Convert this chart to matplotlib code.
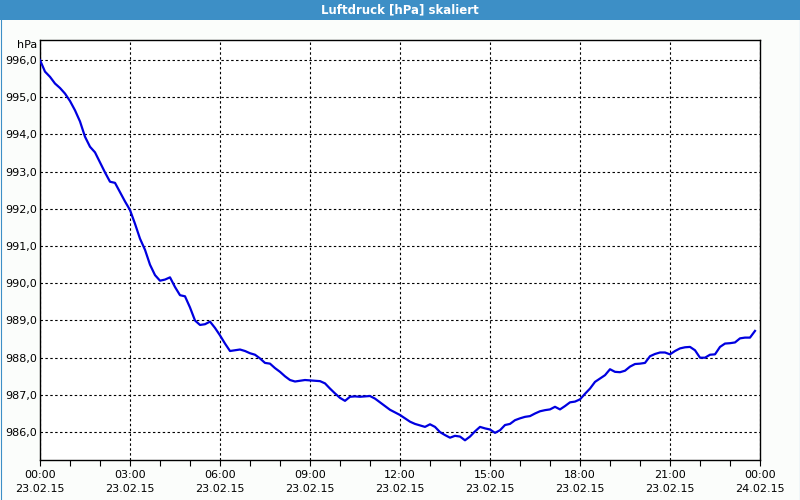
import numpy as np
import matplotlib
matplotlib.use("Agg")
import matplotlib.pyplot as plt
from matplotlib.patches import Rectangle
from matplotlib.lines import Line2D
from matplotlib.ticker import FixedLocator, MultipleLocator, FuncFormatter

title = "Luftdruck [hPa] skaliert"
unit = "hPa"

# minutes after 23.02.15 00:00, one reading every 10 minutes
minutes = np.arange(0, 1440, 10)
pressure = [
    996.00, 995.69, 995.55, 995.37, 995.25, 995.10, 994.90, 994.65, 994.35, 993.94,
    993.67, 993.52, 993.25, 992.98, 992.73, 992.70, 992.45, 992.20, 991.97, 991.60,
    991.20, 990.90, 990.50, 990.22, 990.07, 990.10, 990.16, 989.90, 989.68, 989.65,
    989.35, 989.00, 988.88, 988.90, 988.97, 988.80, 988.60, 988.38, 988.18, 988.20,
    988.22, 988.18, 988.12, 988.08, 987.98, 987.86, 987.84, 987.72, 987.62, 987.50,
    987.40, 987.36, 987.38, 987.40, 987.39, 987.38, 987.37, 987.31, 987.17, 987.04,
    986.92, 986.84, 986.95, 986.96, 986.95, 986.96, 986.97, 986.90, 986.80, 986.70,
    986.60, 986.53, 986.46, 986.37, 986.28, 986.22, 986.18, 986.14, 986.21, 986.14,
    986.00, 985.92, 985.85, 985.90, 985.88, 985.78, 985.88, 986.02, 986.14, 986.10,
    986.07, 985.98, 986.05, 986.19, 986.22, 986.32, 986.37, 986.41, 986.43, 986.50,
    986.56, 986.59, 986.61, 986.68, 986.61, 986.70, 986.80, 986.82, 986.88, 987.03,
    987.17, 987.35, 987.44, 987.53, 987.69, 987.62, 987.61, 987.65, 987.76, 987.83,
    987.84, 987.86, 988.04, 988.10, 988.14, 988.14, 988.09, 988.18, 988.25, 988.28,
    988.29, 988.20, 988.00, 988.00, 988.08, 988.09, 988.29, 988.38, 988.39, 988.41,
    988.52, 988.54, 988.54, 988.72,
]

tick_hours = [0, 3, 6, 9, 12, 15, 18, 21, 24]
tick_labels = ["00:00\n23.02.15", "03:00\n23.02.15", "06:00\n23.02.15",
               "09:00\n23.02.15", "12:00\n23.02.15", "15:00\n23.02.15",
               "18:00\n23.02.15", "21:00\n23.02.15", "00:00\n24.02.15"]
y_ticks = [986, 987, 988, 989, 990, 991, 992, 993, 994, 995, 996]

hours = minutes / 60.0

plt.rcParams['font.family'] = ['DejaVu Sans']
fig = plt.figure(figsize=(8, 5), dpi=100, facecolor='#fbfdfb')

# header bar + thin side borders
blue = '#3d8fc6'
fig.patches.append(Rectangle((0, 480 / 500), 1, 20 / 500, transform=fig.transFigure,
                             facecolor=blue, edgecolor='none', zorder=0))
for xb in (0.5 / 800, 799.5 / 800):
    fig.lines.append(Line2D([xb, xb], [0, 1], transform=fig.transFigure,
                            color=blue, linewidth=0.8))
fig.text(0.5, 490 / 500, title, ha='center', va='center', color='white',
         fontsize=8.5, fontweight='bold')

ax = fig.add_axes([40 / 800, 40 / 500, 720 / 800, 420 / 500])
ax.set_facecolor('white')
ax.plot(hours, pressure, color='#0000e0', linewidth=1.6, zorder=3)

ax.set_xlim(0, 24)
ax.set_ylim(985.25, 996.54)

ax.xaxis.set_major_locator(FixedLocator(tick_hours))
ax.set_xticklabels(tick_labels)
ax.xaxis.set_minor_locator(MultipleLocator(1))
ax.yaxis.set_major_locator(FixedLocator(y_ticks))
ax.yaxis.set_major_formatter(FuncFormatter(lambda v, p: f"{v:.1f}".replace('.', ',')))

ax.tick_params(axis='x', which='major', direction='out', length=4, width=0.8,
               labelsize=8, pad=3, colors='black')
ax.tick_params(axis='x', which='minor', direction='out', length=4, width=0.8)
ax.tick_params(axis='y', length=0, labelsize=8, pad=2)
for lbl in ax.get_xticklabels():
    lbl.set_linespacing(1.5)

ax.grid(True, which='major', color='black', linestyle=(0, (2.2, 2.2)), linewidth=0.8)
for s in ax.spines.values():
    s.set_color('black')
    s.set_linewidth(1)

ax.text(-0.004, 1.0, unit, transform=ax.transAxes, ha='right', va='top', fontsize=8)

fig.savefig('out.png', dpi=100, facecolor=fig.get_facecolor())
